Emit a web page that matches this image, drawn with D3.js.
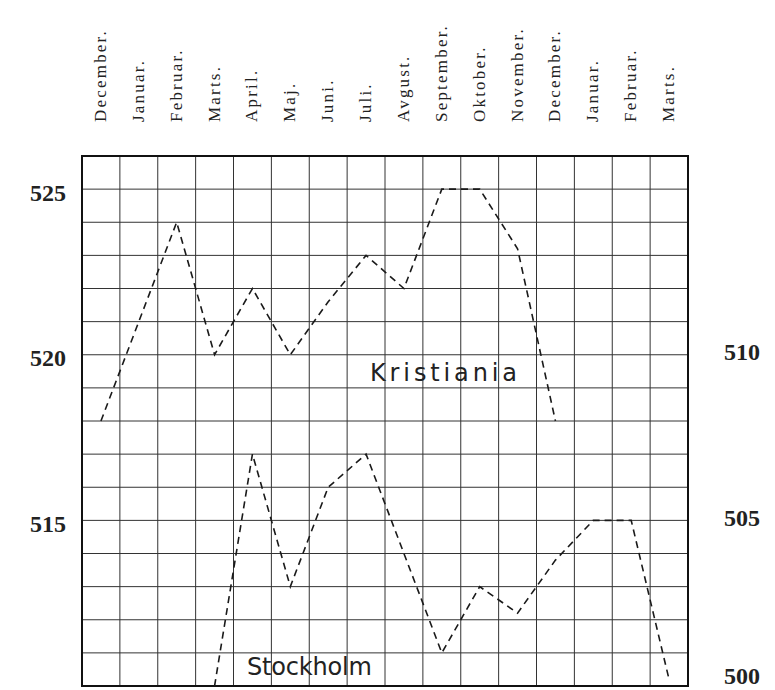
<!DOCTYPE html>
<html>
<head>
<meta charset="utf-8">
<script src="https://cdn.jsdelivr.net/npm/d3@7"></script>
<style>
  body { margin: 0; background: #fff; }
  svg { display: block; }
</style>
</head>
<body>
<div id="chart"></div>
<script>
// months along the top (Dec .. Mar of the following year)
var months = ["December.", "Januar.", "Februar.", "Marts.", "April.", "Maj.", "Juni.", "Juli.",
              "Avgust.", "September.", "Oktober.", "November.", "December.", "Januar.", "Februar.", "Marts."];

// Kristiania read on the left scale, Stockholm on the right scale
var kristiania = [518, 521, 524, 520, 522, 520, 521.6, 523, 522, 525, 525, 523.2, 518, null, null, null];
var stockholm  = [null, null, null, 500, 507, 503, 506, 507, 504, 501, 503, 502.2, 503.8, 505, 505, 500.2];

var leftTicks  = [515, 520, 525];
var rightTicks = [500, 505, 510];

var width = 775, height = 690;
var gLeft = 82, gRight = 688, gTop = 156, gBottom = 686;

var svg = d3.select("#chart").append("svg")
    .attr("width", width)
    .attr("height", height);

var x = d3.scaleBand()
    .domain(d3.range(months.length))
    .range([gLeft, gRight])
    .padding(0);

var yLeft = d3.scaleLinear()
    .domain([510, 526])
    .range([gBottom, gTop]);

var yRight = d3.scaleLinear()
    .domain([500, 516])
    .range([gBottom, gTop]);

function cx(i){ return x(i) + x.bandwidth() / 2; }

// grid
var grid = svg.append("g").attr("stroke", "#333").attr("stroke-width", 1);

grid.selectAll("line.v").data(d3.range(1, months.length)).enter().append("line")
    .attr("x1", function(d){ return x(d); })
    .attr("x2", function(d){ return x(d); })
    .attr("y1", gTop)
    .attr("y2", gBottom);

grid.selectAll("line.h").data(d3.range(511, 526)).enter().append("line")
    .attr("x1", gLeft)
    .attr("x2", gRight)
    .attr("y1", function(d){ return yLeft(d); })
    .attr("y2", function(d){ return yLeft(d); });

svg.append("rect")
    .attr("x", gLeft)
    .attr("y", gTop)
    .attr("width", gRight - gLeft)
    .attr("height", gBottom - gTop)
    .attr("fill", "none")
    .attr("stroke", "#111")
    .attr("stroke-width", 2);

// month labels, read bottom to top
svg.append("g").selectAll("text").data(months).enter().append("text")
    .attr("transform", function(d, i){ return "translate(" + (cx(i) + 5) + ",122) rotate(-90)"; })
    .style("text-anchor", "start")
    .style("font-family", "'Liberation Serif', 'DejaVu Serif', serif")
    .style("font-size", "17px")
    .style("letter-spacing", "2.2px")
    .attr("fill", "#222")
    .text(function(d){ return d; });

// value labels
svg.append("g").selectAll("text").data(leftTicks).enter().append("text")
    .attr("x", 66)
    .attr("y", function(d){ return yLeft(d) + 3; })
    .attr("dy", "0.35em")
    .style("text-anchor", "end")
    .style("font-family", "'Liberation Serif', 'DejaVu Serif', serif")
    .style("font-weight", "bold")
    .style("font-size", "24px")
    .attr("fill", "#222")
    .text(function(d){ return d; });

svg.append("g").selectAll("text").data(rightTicks).enter().append("text")
    .attr("x", 724)
    .attr("y", function(d){ return Math.min(yRight(d) - 3, 676); })
    .attr("dy", "0.35em")
    .style("text-anchor", "start")
    .style("font-family", "'Liberation Serif', 'DejaVu Serif', serif")
    .style("font-weight", "bold")
    .style("font-size", "24px")
    .attr("fill", "#222")
    .text(function(d){ return d; });

// series
function drawSeries(values, y){
  var line = d3.line()
      .defined(function(d){ return d != null; })
      .x(function(d, i){ return cx(i); })
      .y(function(d){ return y(d); });
  svg.append("path")
      .datum(values)
      .attr("d", line)
      .attr("fill", "none")
      .attr("stroke", "#1a1a1a")
      .attr("stroke-width", 1.6)
      .attr("stroke-dasharray", "7,5");
}
drawSeries(kristiania, yLeft);
drawSeries(stockholm, yRight);

// series names
svg.append("text")
    .attr("x", 370)
    .attr("y", 381)
    .attr("textLength", 147)
    .attr("lengthAdjust", "spacing")
    .style("font-family", "'DejaVu Sans', sans-serif")
    .style("font-size", "24px")
    .attr("fill", "#222")
    .text("Kristiania");

svg.append("text")
    .attr("x", 247)
    .attr("y", 675)
    .attr("textLength", 125)
    .attr("lengthAdjust", "spacing")
    .style("font-family", "'DejaVu Sans', sans-serif")
    .style("font-size", "24px")
    .attr("fill", "#222")
    .text("Stockholm");
</script>
</body>
</html>
